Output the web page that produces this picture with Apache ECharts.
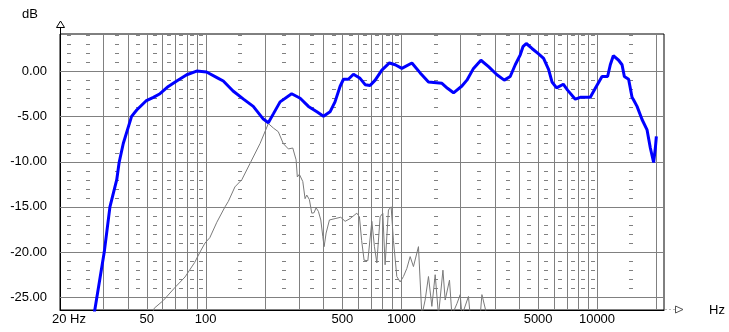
<!DOCTYPE html>
<html><head><meta charset="utf-8">
<script src="https://cdn.jsdelivr.net/npm/echarts@6/dist/echarts.min.js"></script>
<style>html,body{margin:0;padding:0;background:#fff}#c{width:729px;height:332px}</style>
</head><body><div id="c"></div>
<script>
// Frequency response (blue)
const responseHz = [26.8,27.2,30.3,32.4,35.1,36.1,37.9,41.8,44.4,49.5,54,58.4,64.4,71.1,80,89.9,101,116,123,138,156,175,197,209,222,240,275,304,335,370,400,432,458,486,506,536,569,615,653,692,735,795,869,930,1006,1132,1248,1376,1612,1721,1848,2040,2163,2338,2551,2790,3080,3357,3601,3821,4053,4184,4349,4651,5027,5333,5655,5888,6216,6723,7072,7745,8213,9241,9802,10607,11330,11695,12116,12898,13427,13796,14507,15101,15390,16020,16991,18025,18733,19475,19870,20105];
const responseDb = [-27,-26.2,-20.0,-15.0,-12.0,-10.1,-8.0,-5.0,-4.3,-3.3,-2.9,-2.5,-1.7,-1.1,-0.4,0.0,-0.1,-0.8,-1.1,-2.2,-3.1,-3.9,-5.3,-5.7,-4.7,-3.4,-2.5,-3.0,-3.9,-4.5,-5.0,-4.5,-3.4,-1.7,-0.9,-0.9,-0.35,-0.8,-1.5,-1.6,-1.0,0.1,0.9,0.7,0.3,0.9,-0.2,-1.2,-1.35,-1.9,-2.4,-1.65,-1.0,0.3,1.2,0.5,-0.4,-1.0,-0.6,0.7,1.8,2.7,3.05,2.5,1.9,1.4,0.2,-1.2,-1.85,-1.45,-2.1,-3.1,-2.9,-2.9,-1.9,-0.6,-0.6,0.7,1.7,1.2,0.7,-0.6,-0.9,-2.9,-3.2,-3.9,-5.35,-6.5,-8.5,-10.1,-8.5,-7.2];
// Distortion (grey)
const distortionHz = [53,54.6,60.7,69.7,78.4,87.8,93.5,99.2,105,114,125.5,130.5,141,153,168.5,189.6,209,222,235,249,264.5,278.6,289.7,294,301,313.5,322,328.6,338.8,348.5,358,366.6,376.7,387.5,396.8,402.9,412.5,428.9,458.5,490,516,547,592,610.5,626.5,645,674,706.5,728.5,749.4,779,804,826,859,886.7,911,948,986,1025,1067,1109,1153,1223,1273,1323,1376,1432,1489,1548,1631,1675,1762,1813,1923,1999,2040,2203,2248,2530,2581,2737];
const distortionDb = [-27,-26.2,-25.35,-23.9,-22.75,-21.15,-20.0,-19.0,-18.4,-16.7,-15.0,-14.4,-12.8,-12.0,-10.2,-8.0,-5.8,-6.3,-6.7,-8.0,-8.6,-8.5,-9.8,-11.7,-11.4,-12.2,-14.1,-13.7,-14.2,-15.7,-15.65,-15.1,-15.5,-16.45,-18.3,-19.4,-17.9,-16.45,-16.3,-16.15,-16.6,-16.3,-15.7,-16.1,-18.7,-20.9,-20.95,-16.6,-19.4,-21.2,-16.1,-15.7,-21.4,-15.35,-15.0,-18.7,-22.7,-23.3,-22.7,-21.8,-20.5,-21.6,-19.4,-27,-25.3,-22.7,-26.0,-22.5,-27,-22.0,-25.3,-23.1,-27,-25.7,-24.7,-27,-24.9,-27,-27,-24.7,-27];
// Axes
const xLabelHz = [20, 50, 100, 500, 1000, 5000, 10000];
const xLabelText = ['20 Hz', '50', '100', '500', '1000', '5000', '10000'];
const xGridHz = [30,40,50,60,70,80,90,100,200,300,400,500,600,700,800,900,1000,2000,3000,4000,5000,6000,7000,8000,9000,10000,20000];
const yGridDb = [-25, -20, -15, -10, -5, 0];
const yLabelDb = [-25, -20, -15, -10, -5, 0];
const minorHz = [20,25,35,45,55,65,75,85,95,150,250,350,450,550,650,750,850,950,1500,2500,3500,4500,5500,6500,7500,8500,9500,15000];
const minorDb = [-24,-23,-22,-21,-19,-18,-17,-16,-14,-13,-12,-11,-9,-8,-7,-6,-4,-3,-2,-1,1,2,3,4];

const FONT = 'Liberation Sans, Arial, sans-serif';
const GRID_COLOR = '#808080';
const minorData = [];
minorHz.forEach(f => minorDb.forEach(d => minorData.push([f, d])));

const labelLines = xLabelHz.map((f, i) => ({
  xAxis: f,
  lineStyle: { color: 'rgba(0,0,0,0)', width: 1, type: 'solid', opacity: 1 },
  label: { show: true, position: 'start', formatter: xLabelText[i], color: '#000', opacity: 1, fontSize: 13, fontFamily: FONT, distance: 3 }
}));

function vLine(params, api) {
  const cs = params.coordSys;
  const x = Math.round(api.coord([api.value(0), api.value(1)])[0]);
  return { type: 'rect', shape: { x: x, y: cs.y, width: 1, height: cs.height }, style: { fill: GRID_COLOR }, silent: true };
}
function hLine(params, api) {
  const cs = params.coordSys;
  const y = Math.round(api.coord([api.value(0), api.value(1)])[1]);
  return { type: 'rect', shape: { x: cs.x, y: y, width: cs.width, height: 1 }, style: { fill: GRID_COLOR }, silent: true };
}
function dash(params, api) {
  const p = api.coord([api.value(0), api.value(1)]);
  return { type: 'rect', shape: { x: Math.round(p[0]) - 2, y: Math.round(p[1]), width: 4, height: 1 }, style: { fill: GRID_COLOR }, silent: true };
}

const chart = echarts.init(document.getElementById('c'), null, { renderer: 'canvas' });
chart.setOption({
  animation: false,
  backgroundColor: '#fff',
  grid: { left: 60, top: 34, right: 65, bottom: 22, show: true, borderColor: '#000', borderWidth: 1, backgroundColor: 'transparent' },
  xAxis: {
    type: 'log', logBase: 10, min: 18, max: 22000,
    name: 'Hz', nameLocation: 'end', nameGap: 45,
    nameTextStyle: { color: '#000', fontSize: 13, fontFamily: FONT, verticalAlign: 'middle', padding: [0, 0, 6, 0] },
    axisLine: { show: true, onZero: false, lineStyle: { color: '#000', width: 1 } },
    axisTick: { show: false }, axisLabel: { show: false },
    splitLine: { show: false }, minorTick: { show: false }, minorSplitLine: { show: false }
  },
  yAxis: {
    type: 'value', min: -26.4, max: 4.1,
    name: 'dB', nameLocation: 'end', nameGap: 13,
    nameTextStyle: { color: '#000', fontSize: 13, fontFamily: FONT, align: 'right', padding: [0, 22, 0, 0] },
    axisLine: { show: true, onZero: false, lineStyle: { color: '#000', width: 1 } },
    axisTick: { show: false },
    splitLine: { show: false },
    axisLabel: { customValues: yLabelDb, formatter: v => Number(v).toFixed(2), color: '#000', fontSize: 13, fontFamily: FONT, margin: 13 }
  },
  series: [
    { name: 'vgrid', type: 'custom', data: xGridHz.map(f => [f, 0]), renderItem: vLine, silent: true, z: 1, clip: false },
    { name: 'hgrid', type: 'custom', data: yGridDb.map(d => [100, d]), renderItem: hLine, silent: true, z: 1, clip: false },
    { name: 'minor', type: 'custom', data: minorData, renderItem: dash, silent: true, z: 1 },
    {
      name: 'labels', type: 'scatter', data: [], silent: true, z: 1,
      markLine: {
        silent: true, symbol: ['none', 'none'], animation: false,
        lineStyle: { color: 'rgba(0,0,0,0)', type: 'solid' },
        label: { show: true, position: 'start', color: '#000', fontSize: 13, fontFamily: FONT },
        emphasis: { disabled: true },
        data: labelLines
      }
    },
    {
      name: 'distortion', type: 'line', data: distortionHz.map((f, i) => [f, distortionDb[i]]),
      symbol: 'none', lineStyle: { color: '#7a7a7a', width: 1 }, z: 2, silent: true
    },
    {
      name: 'response', type: 'line', data: responseHz.map((f, i) => [f, responseDb[i]]),
      symbol: 'none', lineStyle: { color: '#0000ff', width: 3 }, z: 3, silent: true
    }
  ],
  graphic: [
    { type: 'line', shape: { x1: 60.5, y1: 27, x2: 60.5, y2: 34 }, style: { stroke: '#000', lineWidth: 1 } },
    { type: 'polygon', shape: { points: [[60.5, 21], [56.5, 27.5], [64.5, 27.5]] }, style: { fill: '#fff', stroke: '#000', lineWidth: 1 } },
    { type: 'line', shape: { x1: 665, y1: 309.5, x2: 675, y2: 309.5 }, style: { stroke: '#bbb', lineWidth: 1, lineDash: [2, 2] } },
    { type: 'polygon', shape: { points: [[675.5, 306], [683, 309.5], [675.5, 313]] }, style: { fill: '#fff', stroke: '#555', lineWidth: 1 } }
  ]
});
</script></body></html>
